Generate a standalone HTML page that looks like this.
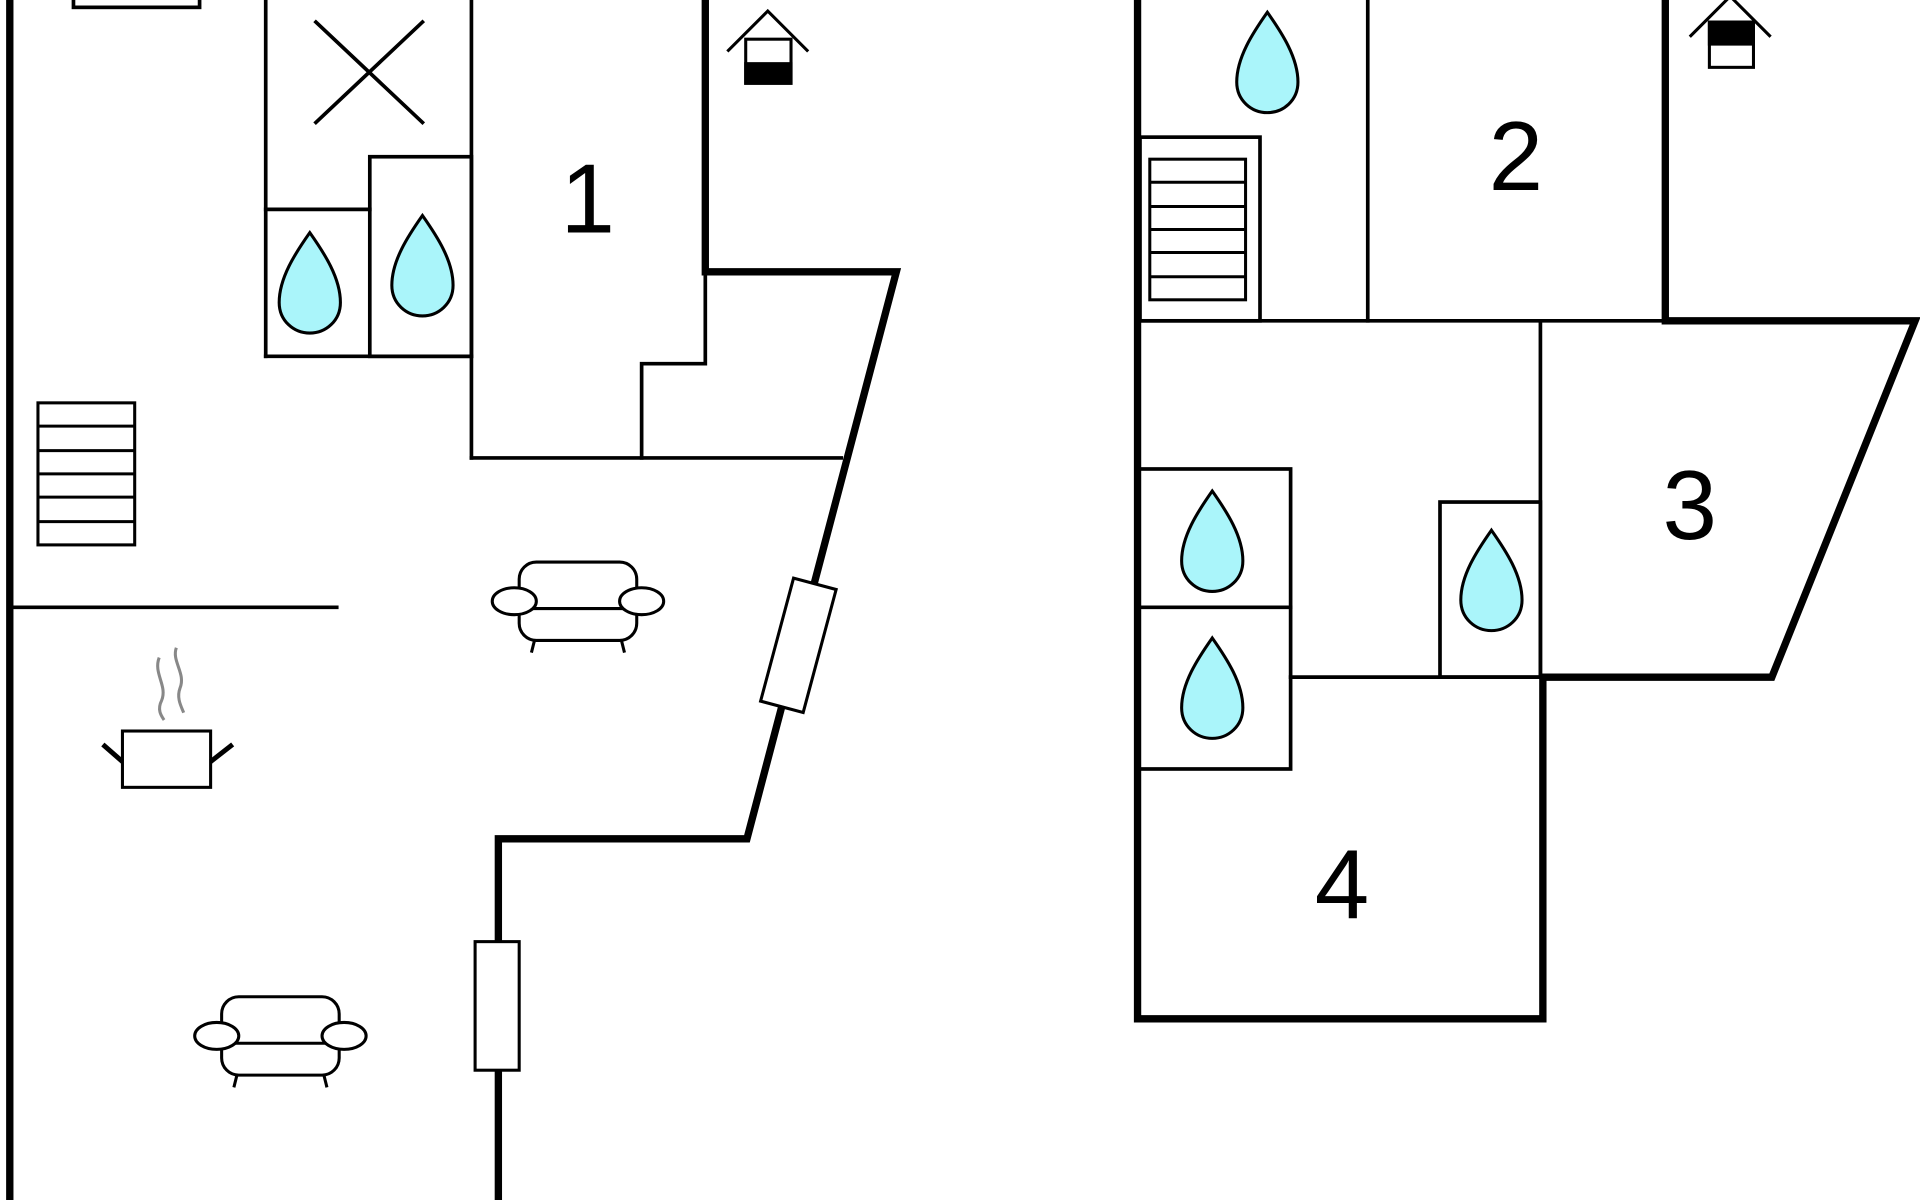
<!DOCTYPE html>
<html><head><meta charset="utf-8"><style>
html,body{margin:0;padding:0;background:#fff;}
svg{display:block;}
text{font-family:"Liberation Sans",sans-serif;}
</style></head><body>
<svg width="1920" height="1200" viewBox="0 0 1568 980" xmlns="http://www.w3.org/2000/svg">
<defs>
<g id="drop"><path d="M0,-42 C12,-25 25,-5 25,15 C25,30 13,40 0,40 C-13,40 -25,30 -25,15 C-25,-5 -12,-25 0,-42 Z" fill="#aaf5fa" stroke="#000" stroke-width="2.5"/></g>
<g id="sofa" fill="#fff" stroke="#000" stroke-width="2.5">
<line x1="-35" y1="30" x2="-38" y2="42"/><line x1="35" y1="30" x2="38" y2="42"/>
<rect x="-48" y="-32" width="96" height="64" rx="14"/>
<line x1="-48" y1="6" x2="48" y2="6"/>
<ellipse cx="-52" cy="0" rx="18" ry="11"/><ellipse cx="52" cy="0" rx="18" ry="11"/>
</g>
<g id="stairs" fill="none" stroke="#000" stroke-width="2.5">
<rect x="0" y="0" width="79" height="116"/>
<line x1="0" y1="19" x2="79" y2="19"/><line x1="0" y1="39" x2="79" y2="39"/><line x1="0" y1="58" x2="79" y2="58"/><line x1="0" y1="77" x2="79" y2="77"/><line x1="0" y1="97" x2="79" y2="97"/>
</g>
</defs>
<rect width="1568" height="980" fill="#fff"/>
<g stroke="#000" fill="none" stroke-linecap="square">
<!-- left building thick -->
<line x1="8" y1="0" x2="8" y2="980" stroke-width="6"/>
<polyline points="576,0 576,222 732,222 610,685 407,685 407,980" stroke-width="6"/>
<!-- thin -->
<g stroke-width="3">
<rect x="60" y="-5" width="103" height="11"/>
<line x1="8" y1="496" x2="275" y2="496"/>
<line x1="217" y1="0" x2="217" y2="291"/>
<line x1="385" y1="0" x2="385" y2="374"/>
<line x1="217" y1="171" x2="302" y2="171"/>
<line x1="217" y1="291" x2="385" y2="291"/>
<rect x="302" y="128" width="83" height="163"/>
<line x1="258" y1="18" x2="345" y2="100"/><line x1="345" y1="18" x2="258" y2="100"/>
<polyline points="576,222 576,297 524,297 524,374"/>
<line x1="385" y1="374" x2="687" y2="374"/>
</g>
<!-- windows -->
<rect x="-18" y="-52" width="36" height="104" transform="translate(652,527) rotate(15)" fill="#fff" stroke-width="2.5"/>
<rect x="388" y="769" width="36" height="105" fill="#fff" stroke-width="2.5"/>
<!-- right building thick -->
<polyline points="929,0 929,832 1260,832 1260,553 1447,553 1564,262 1360,262 1360,0" stroke-width="6"/>
<g stroke-width="3">
<line x1="1117" y1="0" x2="1117" y2="262"/>
<line x1="929" y1="262" x2="1360" y2="262"/>
<line x1="1258" y1="262" x2="1258" y2="553"/>
<rect x="931" y="112" width="98" height="150"/>
<rect x="929" y="383" width="125" height="245"/>
<line x1="929" y1="496" x2="1054" y2="496"/>
<rect x="1176" y="410" width="82" height="143"/>
<line x1="1054" y1="553" x2="1260" y2="553"/>
</g>
</g>
<use href="#stairs" x="31" y="329"/>
<g transform="translate(939,130) scale(0.99,0.99)"><use href="#stairs"/></g>
<use href="#drop" x="253" y="232"/>
<use href="#drop" x="345" y="218"/>
<use href="#drop" x="1035" y="52"/>
<use href="#drop" x="990" y="443"/>
<use href="#drop" x="990" y="563"/>
<use href="#drop" x="1218" y="475"/>
<use href="#sofa" x="472" y="491"/>
<use href="#sofa" x="229" y="846"/>
<!-- pot -->
<g stroke="#000" stroke-width="2.5" fill="#fff">
<rect x="100" y="597" width="72" height="46"/>
<line x1="100" y1="622" x2="84" y2="608" stroke-width="4"/>
<line x1="172" y1="622" x2="190" y2="608" stroke-width="4"/>
<path d="M130,537 C125,550 137,560 132,572 C128,580 132,585 134,588" fill="none" stroke="#888"/>
<path d="M144,529 C140,540 152,550 147,562 C144,570 148,577 150,582" fill="none" stroke="#888"/>
</g>
<!-- house icons -->
<g stroke="#000" stroke-width="2.5" fill="#fff">
<polyline points="594,42 627,9 660,42" fill="none"/>
<rect x="609" y="32" width="37" height="36"/>
<rect x="609" y="52" width="37" height="16" fill="#000"/>
<polyline points="1380,30 1413,-3 1446,30" fill="none"/>
<rect x="1396" y="18" width="36" height="37"/>
<rect x="1396" y="18" width="36" height="18" fill="#000"/>
</g>
<g font-size="80" fill="#000" text-anchor="middle">
<text x="480" y="190">1</text>
<text x="1238" y="155">2</text>
<text x="1380" y="440">3</text>
<text x="1096" y="750">4</text>
</g>
</svg>
</body></html>
